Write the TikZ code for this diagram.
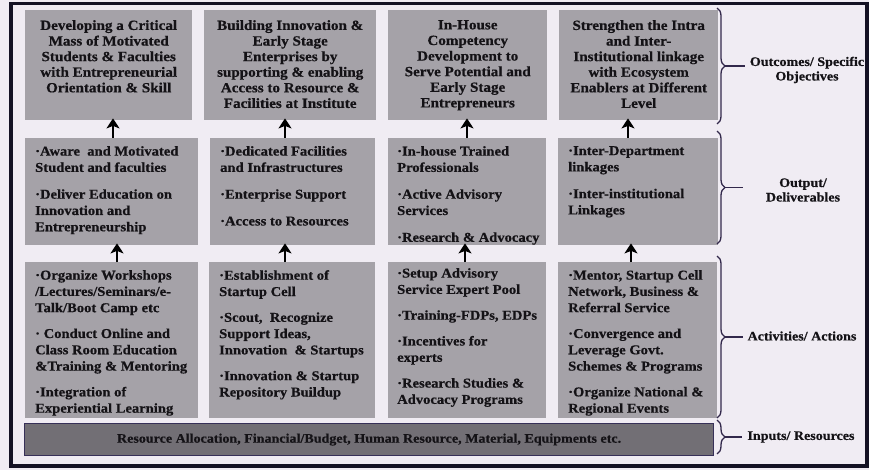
\documentclass[tikz,border=0pt]{standalone}
\usepackage{fontspec}
\setmainfont{Liberation Serif}[FakeStretch=1.08, BoldFeatures={FakeBold=0.6}]
\usetikzlibrary{arrows.meta,decorations.pathreplacing}
\definecolor{bgc}{RGB}{240,236,243}
\definecolor{boxc}{RGB}{165,162,168}
\definecolor{barc}{RGB}{114,111,117}
\definecolor{barline}{RGB}{55,48,88}
\definecolor{framec}{RGB}{20,18,36}
\definecolor{txtc}{RGB}{20,18,22}
\definecolor{bracec}{RGB}{50,40,75}
\begin{document}
\begin{tikzpicture}[x=1pt,y=-1pt,
 gbox/.style={fill=boxc, draw=none, inner sep=0pt, anchor=north west},
 ttl/.style={anchor=north, inner sep=0pt, align=center, text=txtc, font=\fontsize{14}{15.6}\selectfont\bfseries},
 blt/.style={anchor=north west, inner sep=0pt, align=left, text=txtc, font=\fontsize{13.5}{16.3}\selectfont\bfseries},
 uparrow/.style={draw=black, line width=2.8pt, -{Stealth[length=10pt,width=13pt,inset=2.5pt]}, shorten >=-2pt},
 brc/.style={draw=bracec, line width=1.3pt, decorate, decoration={brace, amplitude=8pt}},
 tick/.style={draw=bracec, line width=1.3pt},
 lbl/.style={align=center, inner sep=0pt, text=txtc, font=\fontsize{13}{14.5}\selectfont\bfseries}]
\useasboundingbox (0,0) rectangle (869,470);
\fill[bgc] (0,0) rectangle (869,470);
\draw[framec, line width=3.5pt] (11,3.5) rectangle (867,466);

% Row 1: outcomes
\node[gbox, minimum width=167pt, minimum height=110pt] (o1) at (25,10) {};
\node[gbox, minimum width=172pt, minimum height=110pt] (o2) at (204,10) {};
\node[gbox, minimum width=159pt, minimum height=110pt] (o3) at (388,10) {};
\node[gbox, minimum width=159pt, minimum height=110pt] (o4) at (559,10) {};
\node[ttl, yshift=-10pt] (o1t) at (o1.north) {Developing a Critical\\Mass of Motivated\\Students \& Faculties\\with Entrepreneurial\\Orientation \& Skill};
\node[ttl, yshift=-10pt] (o2t) at (o2.north) {Building Innovation \&\\Early Stage\\Enterprises by\\supporting \& enabling\\Access to Resource \&\\Facilities at Institute};
\node[ttl, yshift=-10pt] (o3t) at (o3.north) {In-House\\Competency\\Development to\\Serve Potential and\\Early Stage\\Entrepreneurs};
\node[ttl, yshift=-10pt] (o4t) at (o4.north) {Strengthen the Intra\\and Inter-\\Institutional linkage\\with Ecosystem\\Enablers at Different\\Level};

% Row 2: outputs
\node[gbox, minimum width=173pt, minimum height=107pt] (m1) at (25,138) {};
\node[gbox, minimum width=165pt, minimum height=107pt] (m2) at (210,138) {};
\node[gbox, minimum width=158pt, minimum height=107pt] (m3) at (388,138) {};
\node[gbox, minimum width=160pt, minimum height=107pt] (m4) at (558,138) {};
\node[blt, xshift=10pt, yshift=-8pt] (m1t) at (m1.north west) {·Aware\ \ and Motivated\\Student and faculties\\[10.5pt]·Deliver Education on\\Innovation and\\Entrepreneurship};
\node[blt, xshift=10pt, yshift=-8pt] (m2t) at (m2.north west) {·Dedicated Facilities\\and Infrastructures\\[10.5pt]·Enterprise Support\\[10.5pt]·Access to Resources};
\node[blt, xshift=9pt, yshift=-8pt] (m3t) at (m3.north west) {·In-house Trained\\Professionals\\[10.5pt]·Active Advisory\\Services\\[10.5pt]·Research \& Advocacy};
\node[blt, xshift=10pt, yshift=-8pt] (m4t) at (m4.north west) {·Inter-Department\\linkages\\[10.5pt]·Inter-institutional\\Linkages};

% Row 3: activities
\node[gbox, minimum width=173pt, minimum height=156pt] (a1) at (25,262) {};
\node[gbox, minimum width=166pt, minimum height=156pt] (a2) at (209,262) {};
\node[gbox, minimum width=158pt, minimum height=156pt] (a3) at (388,262) {};
\node[gbox, minimum width=159pt, minimum height=156pt] (a4) at (558,262) {};
\node[blt, xshift=10pt, yshift=-8pt] (a1t) at (a1.north west) {·Organize Workshops\\/Lectures/Seminars/e-\\Talk/Boot Camp etc\\[9.5pt]· Conduct Online and\\Class Room Education\\\&Training \& Mentoring\\[9.5pt]·Integration of\\Experiential Learning};
\node[blt, xshift=10pt, yshift=-8pt] (a2t) at (a2.north west) {·Establishment of\\Startup Cell\\[9.5pt]·Scout,\ \ Recognize\\Support Ideas,\\Innovation\ \ \& Startups\\[9.5pt]·Innovation \& Startup\\Repository Buildup};
\node[blt, xshift=9pt, yshift=-6pt] (a3t) at (a3.north west) {·Setup Advisory\\Service Expert Pool\\[9.5pt]·Training-FDPs, EDPs\\[9.5pt]·Incentives for\\experts\\[9.5pt]·Research Studies \&\\Advocacy Programs};
\node[blt, xshift=10pt, yshift=-8pt] (a4t) at (a4.north west) {·Mentor, Startup Cell\\Network, Business \&\\Referral Service\\[9.5pt]·Convergence and\\Leverage Govt.\\Schemes \& Programs\\[9.5pt]·Organize National \&\\Regional Events};

% Row 4: inputs bar
\node[anchor=north west, fill=barc, draw=barline, line width=1.2pt, inner sep=0pt, minimum width=689pt, minimum height=32pt, text=txtc, font=\fontsize{13}{15}\selectfont\bfseries] (bar) at (24,423) {Resource Allocation, Financial/Budget, Human Resource, Material, Equipments etc.};

% arrows
\coordinate (ax1) at (113,0);
\coordinate (ax2) at (285,0);
\coordinate (ax3) at (467,0);
\coordinate (ax4) at (628,0);
\coordinate (bx1) at (117,0);
\coordinate (bx2) at (285,0);
\coordinate (bx3) at (465,0);
\coordinate (bx4) at (631,0);
\draw[uparrow] (m1.north -| ax1) -- (o1.south -| ax1);
\draw[uparrow] (m2.north -| ax2) -- (o2.south -| ax2);
\draw[uparrow] (m3.north -| ax3) -- (o3.south -| ax3);
\draw[uparrow] (m4.north -| ax4) -- (o4.south -| ax4);
\draw[uparrow] (a1.north -| bx1) -- (m1.south -| bx1);
\draw[uparrow] (a2.north -| bx2) -- (m2.south -| bx2);
\draw[uparrow] (a3.north -| bx3) -- (m3.south -| bx3);
\draw[uparrow] (a4.north -| bx4) -- (m4.south -| bx4);

% braces and labels
\coordinate (b1a) at (717,8);   \coordinate (b1b) at (717,124);
\coordinate (b2a) at (717,131); \coordinate (b2b) at (717,244);
\coordinate (b3a) at (717,256); \coordinate (b3b) at (717,418);
\coordinate (b4a) at (717,420); \coordinate (b4b) at (717,454);
\draw[brc] (b1a) -- (b1b);
\draw[brc] (b2a) -- (b2b);
\draw[brc] (b3a) -- (b3b);
\draw[brc] (b4a) -- (b4b);
\coordinate (t1a) at (725,66);    \coordinate (t1b) at (745,66);
\coordinate (t2a) at (725,187.5); \coordinate (t2b) at (743,187.5);
\coordinate (t3a) at (725,337);   \coordinate (t3b) at (743,337);
\coordinate (t4a) at (725,437);   \coordinate (t4b) at (742,437);
\draw[tick] (t1a) -- (t1b);
\draw[tick] (t2a) -- (t2b);
\draw[tick] (t3a) -- (t3b);
\draw[tick] (t4a) -- (t4b);
\node[lbl] (l1) at (807,70) {Outcomes/ Specific\\Objectives};
\node[lbl] (l2) at (803,190) {Output/\\Deliverables};
\node[lbl] (l3) at (802,336) {Activities/ Actions};
\node[lbl] (l4) at (801,437) {Inputs/ Resources};
\end{tikzpicture}
\end{document}
